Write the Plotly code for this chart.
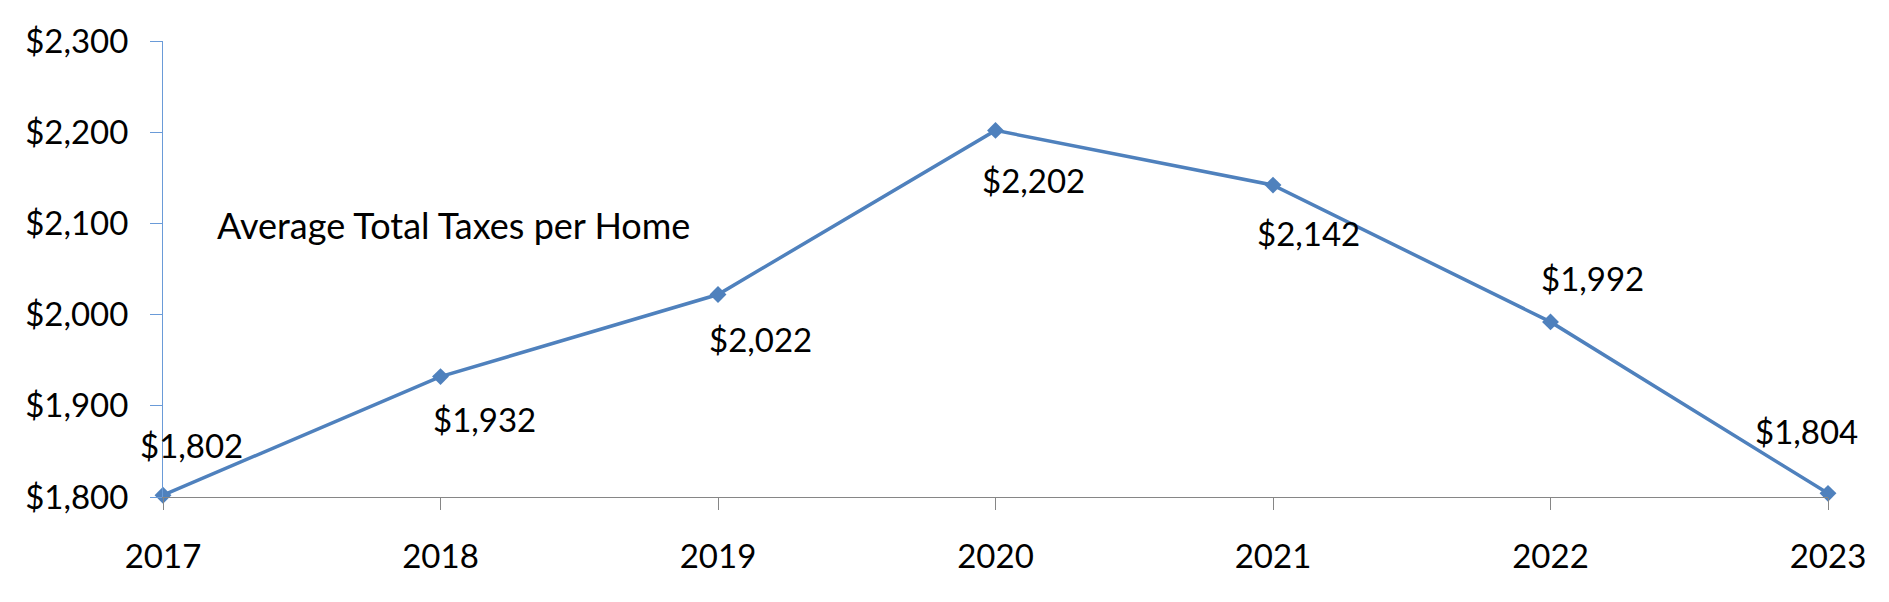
import plotly.graph_objects as go

years = [2017, 2018, 2019, 2020, 2021, 2022, 2023]
avg_taxes = [1802, 1932, 2022, 2202, 2142, 1992, 1804]
y_ticks = [1800, 1900, 2000, 2100, 2200, 2300]
series_label = "Average Total Taxes per Home"

# pixel offsets of each data label from its point (Excel-style placement)
label_dx = [28, 44, 42, 38, 35, 42, -22]
label_dy = [50, -42, -44, -50, -48, 44, 62]

FONT = "Lato"
BLUE = "#4F81BD"

fig = go.Figure()
fig.add_trace(go.Scatter(
    x=years, y=avg_taxes,
    mode="lines+markers",
    line=dict(color=BLUE, width=3.5),
    marker=dict(symbol="diamond", size=13, color=BLUE),
    cliponaxis=False,
    showlegend=False,
))

for yr, val, dx, dy in zip(years, avg_taxes, label_dx, label_dy):
    fig.add_annotation(
        x=yr, y=val, text=f"${val:,}", showarrow=False,
        xshift=dx, yshift=dy,
        font=dict(family=FONT, size=33, color="black"),
    )

fig.add_annotation(
    x=0.031, y=0.597, xref="paper", yref="paper",
    xanchor="left", yanchor="middle",
    text=series_label, showarrow=False,
    font=dict(family=FONT, size=36, color="black"),
)

fig.update_xaxes(
    range=[2017, 2023], tickvals=years, ticktext=[str(y) for y in years],
    showgrid=False, zeroline=False,
    showline=True, linecolor="#868686", linewidth=1,
    ticks="outside", ticklen=12, tickcolor="#868686",
    tickfont=dict(family=FONT, size=33, color="black"),
    ticklabelstandoff=18,
)
fig.update_yaxes(
    range=[1800, 2300], tickvals=y_ticks,
    ticktext=[f"${v:,}" for v in y_ticks],
    showgrid=False, zeroline=False,
    showline=True, linecolor="#6A9BD8", linewidth=1,
    ticks="outside", ticklen=12, tickcolor="#6A9BD8",
    tickfont=dict(family=FONT, size=33, color="black"),
    ticklabelstandoff=15,
)

# page body has an 8px margin, so margins are trimmed to land the plot area in place
fig.update_layout(
    width=1889, height=602,
    margin=dict(l=155, r=69, t=26, b=113),
    plot_bgcolor="white", paper_bgcolor="white",
)

fig.write_html("out.html")
